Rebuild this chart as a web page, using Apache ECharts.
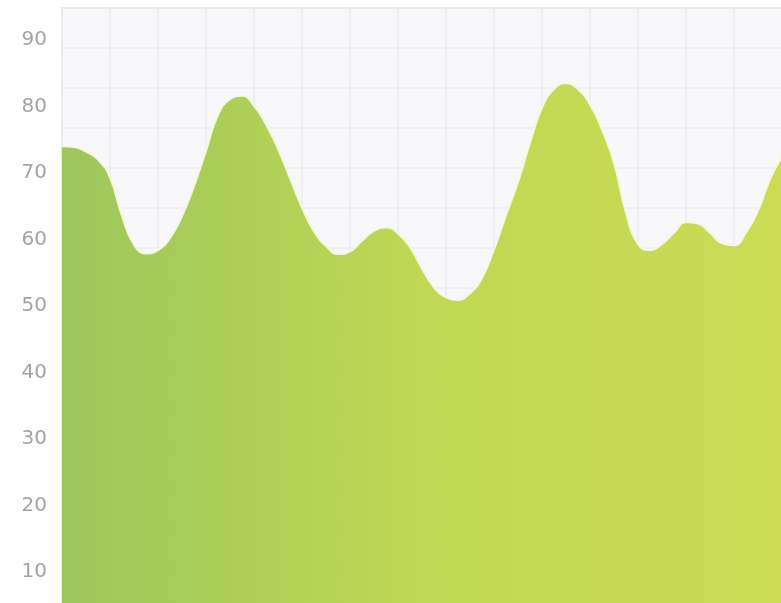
<!DOCTYPE html>
<html>
<head>
<meta charset="utf-8">
<script src="https://cdn.jsdelivr.net/npm/echarts@6/dist/echarts.min.js"></script>
<style>
html,body{margin:0;padding:0;background:#fff;width:781px;height:603px;overflow:hidden;}
#c{width:790px;height:645px;}
</style>
</head>
<body>
<div id="c"></div>
<script>
// Data
var categories = [];
for (var i = 1; i <= 61; i++) categories.push(String(i));
var values = [74.0, 73.9, 73.2, 72.0, 69.3, 63.5, 59.2, 57.9, 58.4, 60.2,
              63.5, 68.0, 73.3, 78.7, 81.1, 81.6, 80.1, 77.3, 73.6, 69.2,
              64.8, 61.2, 59.0, 57.8, 58.2, 59.8, 61.3, 61.8, 60.9, 58.8,
              55.6, 52.8, 51.3, 50.9, 51.9, 54.2, 58.5, 63.6, 68.6, 74.5,
              79.8, 82.6, 83.5, 82.6, 80.3, 76.5, 71.5, 64.0, 59.3, 58.4,
              59.3, 61.0, 62.6, 62.4, 61.0, 59.4, 59.1, 61.0, 64.3, 69.0, 72.5];
var yTicks = [10, 20, 30, 40, 50, 60, 70, 80, 90];

var chart = echarts.init(document.getElementById('c'));
chart.setOption({
  animation: false,
  backgroundColor: '#ffffff',
  grid: {
    left: 62, top: 8, width: 720, height: 630.5,
    show: true, backgroundColor: '#f8f8fa', borderColor: '#e2e2e4', borderWidth: 2
  },
  xAxis: [
    { type: 'category', data: categories, boundaryGap: false, show: false },
    { type: 'value', min: 0, max: 720, interval: 48, position: 'top',
      axisLine: {show: false}, axisTick: {show: false}, axisLabel: {show: false},
      splitLine: {show: true, lineStyle: {color: '#ececf0', width: 1.5}} }
  ],
  yAxis: [
    { type: 'value', min: 0, max: 94.8, interval: 10,
      axisLine: {show: false}, axisTick: {show: false}, splitLine: {show: false},
      axisLabel: {
        color: '#a3a3a3', fontSize: 20, fontFamily: 'DejaVu Sans, sans-serif', margin: 15,
        showMaxLabel: false,
        formatter: function (v) { return yTicks.indexOf(v) >= 0 ? String(v) : ''; }
      } },
    { type: 'value', min: 0, max: 630.5, interval: 40, inverse: true, position: 'right',
      axisLine: {show: false}, axisTick: {show: false}, axisLabel: {show: false},
      splitLine: {show: true, lineStyle: {color: '#ececf0', width: 1.5}} }
  ],
  series: [{
    type: 'line',
    xAxisIndex: 0, yAxisIndex: 0,
    data: values,
    smooth: 0.5,
    symbol: 'none',
    lineStyle: {color: 'rgba(246,250,214,0.95)', width: 2},
    areaStyle: {
      opacity: 0.95,
      color: new echarts.graphic.LinearGradient(0, 0, 1, 0, [
        {offset: 0, color: '#97c454'},
        {offset: 0.5, color: '#bdd64a'},
        {offset: 1, color: '#c9da4c'}
      ])
    }
  }]
});
</script>
</body>
</html>
